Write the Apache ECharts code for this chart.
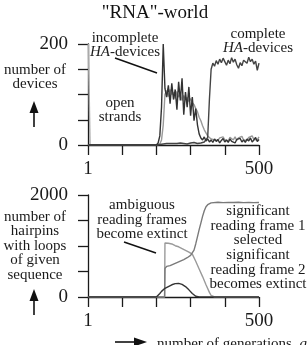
<!DOCTYPE html>
<html>
<head>
<meta charset="utf-8">
<script src="https://cdn.jsdelivr.net/npm/echarts@6/dist/echarts.min.js"></script>
<style>
html,body{margin:0;padding:0;background:#fff}
#main{width:307px;height:345px}
</style>
</head>
<body>
<div id="main"></div>
<script>
// upper panel: number of devices
var topGens = [1,200,205,210,215,220,225,230,235,240,245,250,255,260,265,270,275,280,285,290,295,300,305,310,315,320,325,330,335,340,345,350,355,360,365,370,375,380,385,390,395,400,405,410,415,420,425,430,435,440,445,450,455,460,465,470,475,480,485,490,495,500];
var incompleteDark = [0,0,4,18,75,200,112,95,118,82,122,90,110,70,125,88,132,60,105,75,115,58,95,48,72,40,22,14,10,16,8,12,6,10,5,12,7,11,4,9,13,6,10,5,12,7,9,4,11,8,13,6,10,5,12,8,14,6,10,15,7,11];
var incompleteLight = [0,0,0,2,10,40,100,108,96,110,100,104,92,106,95,100,88,98,90,94,86,92,84,80,72,66,55,48,38,30,24,18,15,12,14,10,13,9,14,11,16,10,13,8,15,12,10,16,9,14,11,17,10,13,9,15,12,18,11,14,10,16];
var completeHA = [0,0,0,1,1,2,2,3,2,3,2,3,4,3,2,4,3,3,4,2,3,4,3,5,4,3,5,4,5,6,8,15,90,150,162,156,167,160,170,163,172,165,158,168,161,173,164,170,159,152,163,157,168,171,162,174,165,170,160,166,148,162];
var openGens = [1,5,6];
var openStrands = [200,200,0];

// lower panel: number of hairpins
var ambGens = [1,224,225,230,235,240,245,250,255,260,265,270,275,280,285,290,295,300,305,315,325,335,345,355,360,365,370,500];
var ambiguous = [0,0,1060,1050,1055,1035,1040,1015,1005,990,985,960,950,930,915,895,880,860,840,700,550,400,240,90,30,5,0,0];
var frame1Gens = [1,224,225,230,235,240,245,250,255,260,265,270,275,280,285,290,295,300,305,310,315,320,325,330,335,340,345,350,355,360,365,380,395,410,425,440,455,470,485,500];
var frame1 = [0,0,560,600,590,615,610,645,640,675,670,705,700,735,745,770,790,815,845,920,1040,1180,1320,1450,1580,1690,1770,1810,1830,1845,1850,1858,1850,1856,1852,1858,1850,1855,1850,1852];
var frame2Gens = [1,200,205,210,215,220,225,230,235,240,245,250,255,260,265,270,275,280,285,290,295,300,305,310,315,320,325,500];
var frame2 = [0,0,30,70,110,145,170,190,205,222,240,250,262,270,266,258,246,230,205,175,140,105,70,40,15,3,0,0];

// tick labels
var xLabels = {0: '1', 500: '500'};
var topYLabels = {0: '0', 200: '200'};
var bottomYLabels = {0: '0', 2000: '2000'};

function pairs(gens, vals) {
    return vals.map(function (v, i) { return [gens[i], v]; });
}

var serif = '"Liberation Serif", "DejaVu Serif", serif';
var axisColor = '#1a1a1a';

function xAxisFor(gridIndex) {
    return {
        type: 'value', gridIndex: gridIndex, min: 0, max: 500, interval: 100,
        axisLine: {show: true, onZero: false, lineStyle: {color: axisColor, width: 1.3}},
        axisTick: {show: true, length: 10, lineStyle: {color: axisColor, width: 1.3}},
        splitLine: {show: false},
        axisLabel: {
            margin: 15, color: '#1a1a1a', fontFamily: serif, fontSize: 19,
            formatter: function (v) { return xLabels[v] || ''; }
        }
    };
}

function yAxisFor(gridIndex, max, labels) {
    return {
        type: 'value', gridIndex: gridIndex, min: 0, max: max, interval: max / 4,
        axisLine: {show: true, lineStyle: {color: axisColor, width: 1.3}},
        axisTick: {show: true, length: 10, lineStyle: {color: axisColor, width: 1.3}},
        splitLine: {show: false},
        axisLabel: {
            margin: 20, color: '#1a1a1a', fontFamily: serif, fontSize: 19,
            formatter: function (v) { return labels[v] || ''; }
        }
    };
}

function lineSeries(x, y, data, color, width) {
    return {
        type: 'line', xAxisIndex: x, yAxisIndex: y, data: data,
        showSymbol: false, symbol: 'none', animation: false,
        lineStyle: {color: color, width: width || 1.4}
    };
}

function label(text, x, y, align) {
    return {
        type: 'text', x: x, y: y,
        style: {
            text: text, fill: '#1a1a1a', font: '15px ' + serif,
            textAlign: align || 'center', textVerticalAlign: 'middle', lineHeight: 14.5,
            rich: {i: {fontStyle: 'italic', fontSize: 15, fontFamily: serif}}
        }
    };
}

function upArrow(x, yBottom, yTop) {
    return [
        {type: 'line', shape: {x1: x, y1: yBottom, x2: x, y2: yTop + 6}, style: {stroke: '#111', lineWidth: 1.6}},
        {type: 'polygon', shape: {points: [[x, yTop], [x - 4.5, yTop + 12], [x + 4.5, yTop + 12]]}, style: {fill: '#111'}}
    ];
}

var myChart = echarts.init(document.getElementById('main'));

var option = {
    backgroundColor: '#fff',
    animation: false,
    grid: [
        {left: 88, top: 44, width: 171, height: 101},
        {left: 88, top: 195, width: 171, height: 102}
    ],
    xAxis: [xAxisFor(0), xAxisFor(1)],
    yAxis: [yAxisFor(0, 200, topYLabels), yAxisFor(1, 2000, bottomYLabels)],
    series: [
        lineSeries(0, 0, pairs(openGens, openStrands), '#aaa'),
        lineSeries(0, 0, pairs(topGens, incompleteLight), '#999'),
        lineSeries(0, 0, pairs(topGens, completeHA), '#444'),
        lineSeries(0, 0, pairs(topGens, incompleteDark), '#333'),
        lineSeries(1, 1, pairs(ambGens, ambiguous), '#9a9a9a'),
        lineSeries(1, 1, pairs(frame1Gens, frame1), '#7a7a7a'),
        lineSeries(1, 1, pairs(frame2Gens, frame2), '#333')
    ],
    graphic: [
        {
            type: 'text', x: 155, y: 13,
            style: {text: '"RNA"-world', fill: '#111', font: '19px ' + serif, textAlign: 'center', textVerticalAlign: 'middle'}
        },
        label('number of\ndevices', 35, 77),
        label('incomplete\n{i|HA}-devices', 125, 45),
        label('complete\n{i|HA}-devices', 258, 41),
        label('open\nstrands', 120, 110),
        {type: 'line', shape: {x1: 115, y1: 58, x2: 157, y2: 73}, style: {stroke: '#111', lineWidth: 1.4}},
        label('number of\nhairpins\nwith loops\nof given\nsequence', 35, 246),
        label('ambiguous\nreading frames\nbecome extinct', 142, 220),
        {type: 'line', shape: {x1: 124, y1: 242, x2: 156, y2: 253}, style: {stroke: '#111', lineWidth: 1.4}},
        label('significant\nreading frame 1\nselected', 258, 226),
        label('significant\nreading frame 2\nbecomes extinct', 258, 270),
        label('number of generations, {i|g}', 157, 344, 'left'),
        {type: 'line', shape: {x1: 115, y1: 342, x2: 138, y2: 342}, style: {stroke: '#111', lineWidth: 1.6}},
        {type: 'polygon', shape: {points: [[147, 342], [134, 337.5], [134, 346.5]]}, style: {fill: '#111'}}
    ].concat(upArrow(34, 127, 101), upArrow(34, 315, 289))
};

myChart.setOption(option);
</script>
</body>
</html>
